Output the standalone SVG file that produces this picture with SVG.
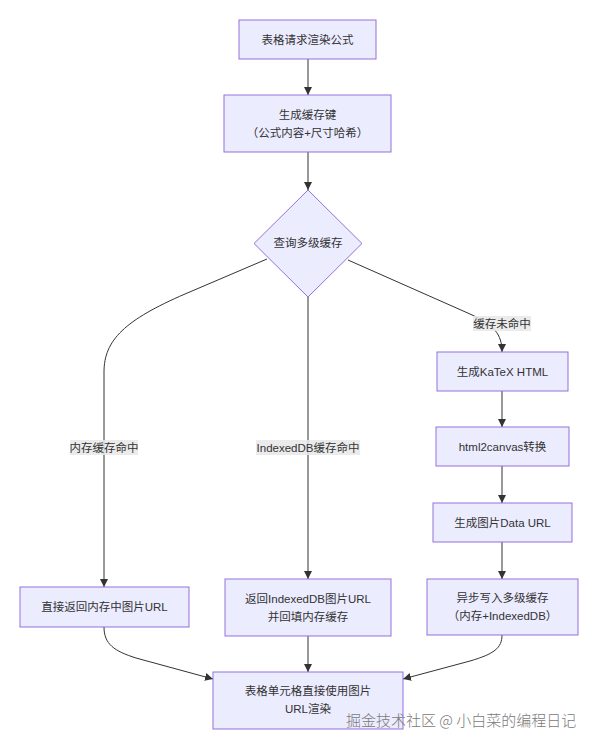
<svg xmlns="http://www.w3.org/2000/svg" width="596" height="747" viewBox="0 0 596 747">
<defs>
<marker id="arrow" viewBox="0 0 10 10" refX="10" refY="5" markerWidth="8" markerHeight="8" markerUnits="userSpaceOnUse" orient="auto">
<path d="M0,0 L10,5 L0,10 z" fill="#333"/>
</marker>
<style>
.node rect, .node polygon { fill: #ECECFF; stroke: #9370DB; stroke-width: 1; }
text { font-family: "Liberation Sans", "Noto Sans CJK SC", sans-serif; font-size: 11.5px; fill: #333; text-anchor: middle; dominant-baseline: central; }
.edge { fill: none; stroke: #333; stroke-width: 1; marker-end: url(#arrow); }
.lbl rect { fill: #e8e8e8; fill-opacity: 0.85; }
.wm { font-family: "Noto Sans CJK SC", sans-serif; font-size: 15px; font-weight: 300; fill: #7a7a7a; text-anchor: start; dominant-baseline: alphabetic; }
</style>
</defs>
<rect width="596" height="747" fill="#ffffff"/>

<g id="connectors">
<path class="edge" d="M308,59 L308,95"/>
<path class="edge" d="M308,152 L308,190"/>
<path class="edge" d="M267,259 L185,294 C125,320 104,340 104,372 L104,587"/>
<path class="edge" d="M308,297 L308,579"/>
<path class="edge" d="M348,260 L470,314 C494,325 502,334 502,352"/>
<path class="edge" d="M502,391 L502,427"/>
<path class="edge" d="M502,466 L502,503"/>
<path class="edge" d="M502,542 L502,579"/>
<path class="edge" d="M104,627 C104,644 114,651 136,658 L213,679"/>
<path class="edge" d="M308,636 L308,672"/>
<path class="edge" d="M502,635 C502,648 494,654 470,661 L403,679"/>
<g class="lbl">
<rect x="70" y="440" width="68" height="15"/>
<text x="104" y="447.5">内存缓存命中</text>
</g>
<g class="lbl">
<rect x="256" y="440" width="104" height="15"/>
<text x="308" y="447.5">IndexedDB缓存命中</text>
</g>
<g class="lbl">
<rect x="473" y="316" width="58" height="15"/>
<text x="502" y="323.5">缓存未命中</text>
</g>
</g>

<g id="n1" class="node">
<rect x="239" y="20" width="137" height="39"/>
<text x="307.5" y="39.5">表格请求渲染公式</text>
</g>
<g id="n2" class="node">
<rect x="224" y="95" width="167" height="57"/>
<text x="307.5" y="115">生成缓存键</text>
<text x="307.5" y="133">（公式内容+尺寸哈希）</text>
</g>
<g id="n3" class="node">
<polygon points="308,190 362,243.5 308,297 254,243.5"/>
<text x="308" y="243">查询多级缓存</text>
</g>
<g id="n4" class="node">
<rect x="20" y="587" width="169" height="40"/>
<text x="104.5" y="607">直接返回内存中图片URL</text>
</g>
<g id="n5" class="node">
<rect x="225" y="579" width="166" height="57"/>
<text x="308" y="598.5">返回IndexedDB图片URL</text>
<text x="308" y="616.5">并回填内存缓存</text>
</g>
<g id="n6" class="node">
<rect x="437" y="352" width="131" height="39"/>
<text x="502.5" y="371.5">生成KaTeX HTML</text>
</g>
<g id="n7" class="node">
<rect x="436" y="427" width="133" height="39"/>
<text x="502.5" y="446.5">html2canvas转换</text>
</g>
<g id="n8" class="node">
<rect x="433" y="503" width="139" height="39"/>
<text x="502.5" y="522.5">生成图片Data URL</text>
</g>
<g id="n9" class="node">
<rect x="427" y="579" width="151" height="56"/>
<text x="502.5" y="598">异步写入多级缓存</text>
<text x="502.5" y="616">（内存+IndexedDB）</text>
</g>
<g id="n10" class="node">
<rect x="213" y="672" width="190" height="57"/>
<text x="308" y="691">表格单元格直接使用图片</text>
<text x="308" y="709">URL渲染</text>
</g>

<text class="wm" x="346" y="726">掘金技术社区 @ 小白菜的编程日记</text>
</svg>
